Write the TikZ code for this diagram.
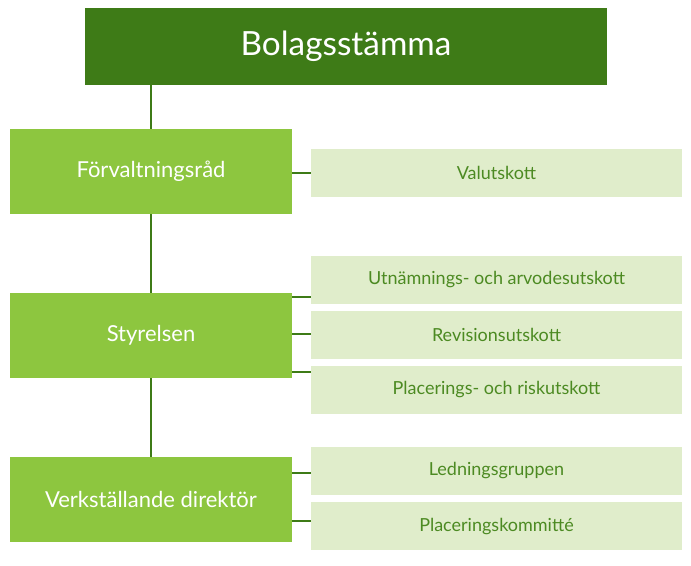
\documentclass[tikz,border=0pt]{standalone}
\usepackage{fontspec}
\setmainfont{Lato}
\definecolor{dg}{HTML}{3E7B17}
\definecolor{lg}{HTML}{8DC63F}
\definecolor{pg}{HTML}{E0EDCB}
\definecolor{tg}{HTML}{4C8A22}
\begin{document}
\begin{tikzpicture}[x=0.75pt,y=-0.75pt,
  top/.style={fill=dg,draw=none,text=white,font=\fontsize{25}{28}\selectfont},
  main/.style={fill=lg,draw=none,text=white,font=\fontsize{16.5}{20}\selectfont},
  sub/.style={fill=pg,draw=none,text=tg,font=\fontsize{13.5}{16}\selectfont},
  conn/.style={draw=dg,line width=2.2pt}]
\useasboundingbox (0,0) rectangle (691,565);
\fill[top] (85,8) rectangle (607,85); \node[text=white,font=\fontsize{25}{28}\selectfont] (bs) at (346,46) {Bolagsstämma};
\coordinate (bsb) at (151,85);
\fill[lg] (10,129) rectangle (292,214); \node[main,fill=none] (fr) at (151,171.5) {Förvaltningsråd};
\fill[lg] (10,293) rectangle (292,378); \node[main,fill=none] (st) at (151,335.5) {Styrelsen};
\fill[lg] (10,457) rectangle (292,542); \node[main,fill=none] (vd) at (151,499.5) {Verkställande direktör};
\foreach \n/\y/\t in {va/173/Valutskott,ut/280/Utnämnings- och arvodesutskott,re/335/Revisionsutskott,pl/390/Placerings- och riskutskott,le/471/Ledningsgruppen,pk/526/Placeringskommitté}{
  \fill[pg] (311,\y-24) rectangle (682,\y+24);
  \node[sub,fill=none] (\n) at (496.5,\y) {\t};
}
\coordinate (b1) at (151,129); \coordinate (b2) at (151,214);
\coordinate (b3) at (151,293); \coordinate (b4) at (151,378); \coordinate (b5) at (151,457);
\draw[conn] (bsb) -- (b1); \draw[conn] (b2) -- (b3); \draw[conn] (b4) -- (b5);
\foreach \y in {173,297,334,372,473,521}{
  \coordinate (l\y) at (292,\y); \coordinate (r\y) at (311,\y);
  \draw[conn] (l\y) -- (r\y);
}
\end{tikzpicture}
\end{document}
